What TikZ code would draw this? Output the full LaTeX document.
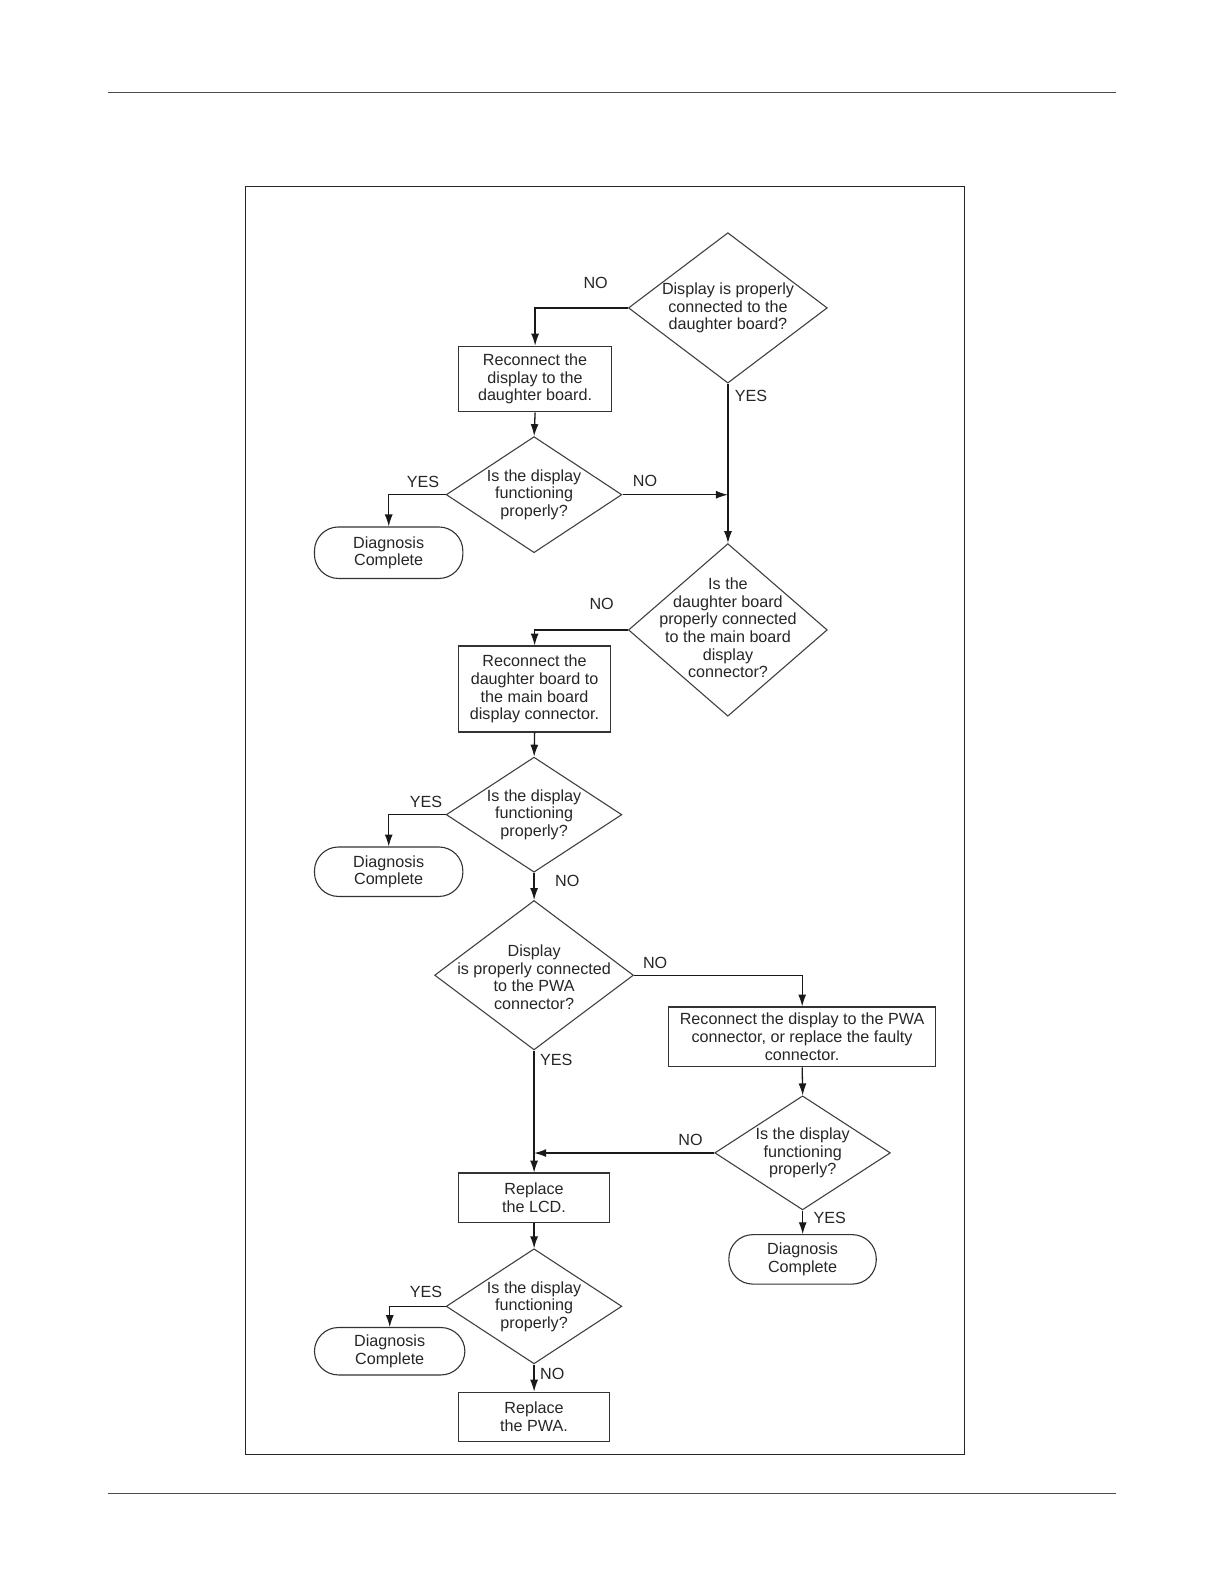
\documentclass[tikz,border=0pt]{standalone}
\usepackage{fontspec}
\setmainfont{Liberation Sans}
\usetikzlibrary{shapes.geometric,arrows.meta}
\begin{document}
\begin{tikzpicture}[x=1pt,y=-1pt,
  every node/.style={font=\fontsize{16}{17.5}\selectfont, text=black!85},
  dec/.style={diamond, draw=black!75, line width=1.1pt, inner sep=0pt},
  intext/.style={align=center, inner sep=0pt},
  proc/.style={rectangle, draw=black!80, line width=1.2pt, align=center, inner sep=0pt},
  term/.style={rectangle, rounded corners=24pt, draw=black!80, line width=1.1pt, align=center, inner sep=0pt},
  conn/.style={draw=black!90, line width=1.3pt, -{Latex[length=12pt,width=8pt]}},
  lbl/.style={inner sep=0pt}
]
\useasboundingbox (0,0) rectangle (1224,1584);
\begin{scope}[scale=1.0095, transform shape]
% page rules and frame
\draw[black!70, line width=0.8pt] (107,92) -- (1105,92);
\draw[black!70, line width=0.8pt] (107,1479) -- (1105,1479);
\draw[black!85, line width=1.1pt] (243,185) rectangle (955,1441);

% decisions
\node[dec, minimum width=197pt, minimum height=149pt,
  label={[intext]center:Display is properly\\connected to the\\daughter board?}] (d1) at (721,305) {};
\node[dec, minimum width=174pt, minimum height=115pt,
  label={[intext]center:Is the display\\functioning\\properly?}] (d2) at (529,490) {};
\node[dec, minimum width=197pt, minimum height=171pt,
  label={[intext, yshift=2pt]center:Is the\\daughter board\\properly connected\\to the main board\\display\\connector?}] (d3) at (721,624) {};
\node[dec, minimum width=174pt, minimum height=114pt,
  label={[intext]center:Is the display\\functioning\\properly?}] (d4) at (529,807) {};
\node[dec, minimum width=197pt, minimum height=148pt,
  label={[intext, yshift=-2pt]center:Display\\is properly connected\\to the PWA\\connector?}] (d5) at (529,966) {};
\node[dec, minimum width=174pt, minimum height=113pt,
  label={[intext]center:Is the display\\functioning\\properly?}] (d6) at (795,1142) {};
\node[dec, minimum width=174pt, minimum height=114pt,
  label={[intext]center:Is the display\\functioning\\properly?}] (d7) at (529,1294) {};

% processes
\node[proc, minimum width=152pt, minimum height=65pt] (r1) at (530,375.5) {Reconnect the\\display to the\\daughter board.};
\node[proc, minimum width=151pt, minimum height=85pt] (r2) at (529.5,682.5) {Reconnect the\\daughter board to\\the main board\\display connector.};
\node[proc, minimum width=265pt, minimum height=59pt] (r3) at (794.5,1027) {Reconnect the display to the PWA\\connector, or replace the faulty\\connector.};
\node[proc, minimum width=150pt, minimum height=49pt] (r4) at (529,1186.5) {Replace\\the LCD.};
\node[proc, minimum width=150pt, minimum height=49pt] (r5) at (529,1403.5) {Replace\\the PWA.};

% terminals
\node[term, minimum width=147pt, minimum height=51pt] (t1) at (385,547.5) {Diagnosis\\Complete};
\node[term, minimum width=147pt, minimum height=49pt] (t2) at (385,863.5) {Diagnosis\\Complete};
\node[term, minimum width=146pt, minimum height=49pt] (t3) at (795,1247.5) {Diagnosis\\Complete};
\node[term, minimum width=149pt, minimum height=47pt] (t4) at (386,1338.5) {Diagnosis\\Complete};

% junctions
\coordinate (j1) at (721,490);
\coordinate (j2) at (529,1142);

% connectors
\draw[conn] (d1.west) -| (r1.north);
\draw[conn] (d1.south) -- (d3.north);
\draw[conn] (r1.south) -- (d2.north);
\draw[conn] (d2.west) -| (t1.north);
\draw[conn] (d2.east) -- (j1);
\draw[conn] (d3.west) -| (r2.north);
\draw[conn] (r2.south) -- (d4.north);
\draw[conn] (d4.west) -| (t2.north);
\draw[conn] (d4.south) -- (d5.north);
\draw[conn] (d5.east) -| (r3.north);
\draw[conn] (d5.south) -- (r4.north);
\draw[conn] (r3.south) -- (d6.north);
\draw[conn] (d6.west) -- (j2);
\draw[conn] (d6.south) -- (t3.north);
\draw[conn] (r4.south) -- (d7.north);
\draw[conn] (d7.west) -| (t4.north);
\draw[conn] (d7.south) -- (r5.north);

% labels
\node[lbl] (l1) at (590,280) {NO};
\node[lbl] (l2) at (744,392) {YES};
\node[lbl] (l3) at (419,477) {YES};
\node[lbl] (l4) at (639,476) {NO};
\node[lbl] (l5) at (596,598) {NO};
\node[lbl] (l6) at (422,794) {YES};
\node[lbl] (l7) at (562,873) {NO};
\node[lbl] (l8) at (649,954) {NO};
\node[lbl] (l9) at (551,1050) {YES};
\node[lbl] (l10) at (684,1129) {NO};
\node[lbl] (l11) at (822,1206) {YES};
\node[lbl] (l12) at (422,1280) {YES};
\node[lbl] (l13) at (547,1361) {NO};
\end{scope}
\end{tikzpicture}
\end{document}
